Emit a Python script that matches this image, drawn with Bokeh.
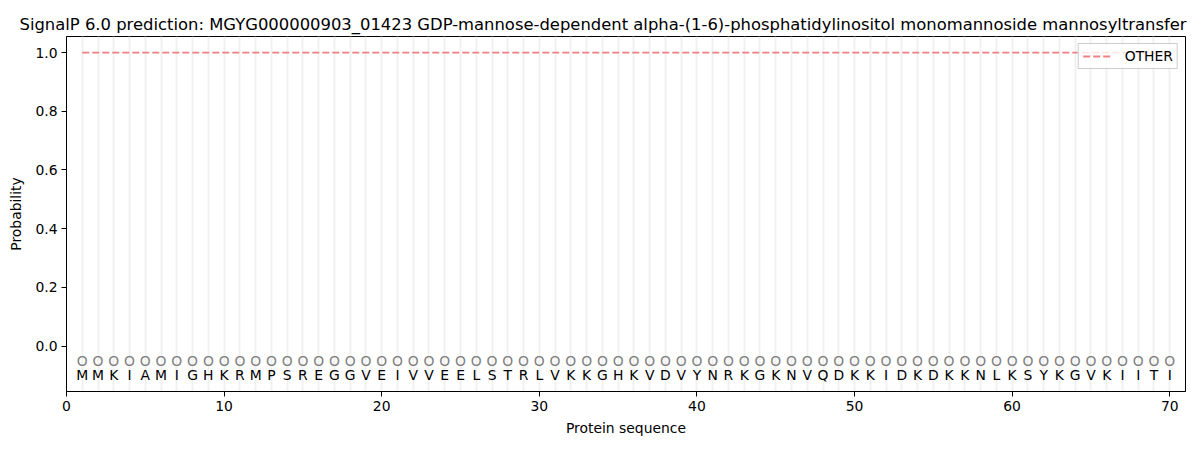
from bokeh.plotting import figure
from bokeh.models import Range1d, Legend, LegendItem, FixedTicker, ColumnDataSource
from bokeh.core.properties import value
from bokeh.embed import file_html
from bokeh.resources import INLINE

TITLE = ("SignalP 6.0 prediction: MGYG000000903_01423 GDP-mannose-dependent "
         "alpha-(1-6)-phosphatidylinositol monomannoside mannosyltransfer")
sequence = list("MMKIAMIGHKRMPSREGGVEIVVEELSTRLVKKGHKVDVYNRKGKNVQDKKIDKDKKNLKSYKGVKIITI")
positions = list(range(1, len(sequence) + 1))
other_prob = [1.0] * len(sequence)
region_labels = ["O"] * len(sequence)
label_y = [-0.05] * len(sequence)
aa_y = [-0.1] * len(sequence)
x_ticks = [0, 10, 20, 30, 40, 50, 60, 70]
y_ticks = [0.0, 0.2, 0.4, 0.6, 0.8, 1.0]

FONT = "DejaVu Sans"

p = figure(frame_width=1119, frame_height=355,
           min_border_left=66, min_border_right=15, min_border_top=36, min_border_bottom=56,
           x_range=Range1d(0, 71), y_range=Range1d(-0.155, 1.055),
           output_backend="svg", toolbar_location=None)

p.title.text = TITLE
p.title.align = "left"
p.title.offset = -47
p.title.text_font = FONT
p.title.text_font_size = "16.4px"
p.title.text_font_style = "normal"
p.title.text_color = "black"
p.title.standoff = 6

p.outline_line_color = "black"
p.outline_line_width = 1

p.ygrid.visible = False
p.xgrid.ticker = FixedTicker(ticks=positions)
p.xgrid.grid_line_color = "#f0f0f0"
p.xgrid.grid_line_width = 2

for ax in (p.xaxis[0], p.yaxis[0]):
    ax.major_tick_in = 0
    ax.major_tick_out = 5
    ax.minor_tick_line_color = None
    ax.major_tick_line_color = "black"
    ax.major_label_text_font = FONT
    ax.major_label_text_font_size = "13.9px"
    ax.major_label_text_color = "black"
    ax.axis_label_text_font = FONT
    ax.axis_label_text_font_size = "13.9px"
    ax.axis_label_text_font_style = "normal"
    ax.axis_label_text_color = "black"
    ax.axis_line_color = "black"

p.xaxis.ticker = FixedTicker(ticks=x_ticks)
p.yaxis.ticker = FixedTicker(ticks=y_ticks)
p.yaxis.major_label_overrides = {v: f"{v:.1f}" for v in y_ticks}
p.xaxis.axis_label = "Protein sequence"
p.yaxis.axis_label = "Probability"
p.xaxis.axis_label_standoff = 6
p.yaxis.axis_label_standoff = 8
p.xaxis.major_label_standoff = 4
p.yaxis.major_label_standoff = 4

src = ColumnDataSource(dict(x=positions, p=other_prob, lab=region_labels,
                            ly=label_y, aa=sequence, ay=aa_y))

line = p.line("x", "p", source=src, line_color="#f08080", line_width=1.8,
              line_dash="7 3")

p.text("x", "ly", text="lab", source=src, text_align="center", text_baseline="middle",
       text_color="#808080", text_font=value(FONT), text_font_size="13.9px")
p.text("x", "ay", text="aa", source=src, text_align="center", text_baseline="middle",
       text_color="black", text_font=value(FONT), text_font_size="13.9px")

legend = Legend(items=[LegendItem(label="OTHER", renderers=[line])],
                location="top_right", margin=7, padding=4, spacing=0,
                label_text_font=FONT, label_text_font_size="13.9px",
                label_text_color="black", label_height=16, glyph_height=16,
                border_line_color="#cccccc", border_line_alpha=1.0,
                background_fill_alpha=0.8, glyph_width=30, label_standoff=12)
p.add_layout(legend, "center")

open("out.html", "w").write(file_html(p, INLINE))
